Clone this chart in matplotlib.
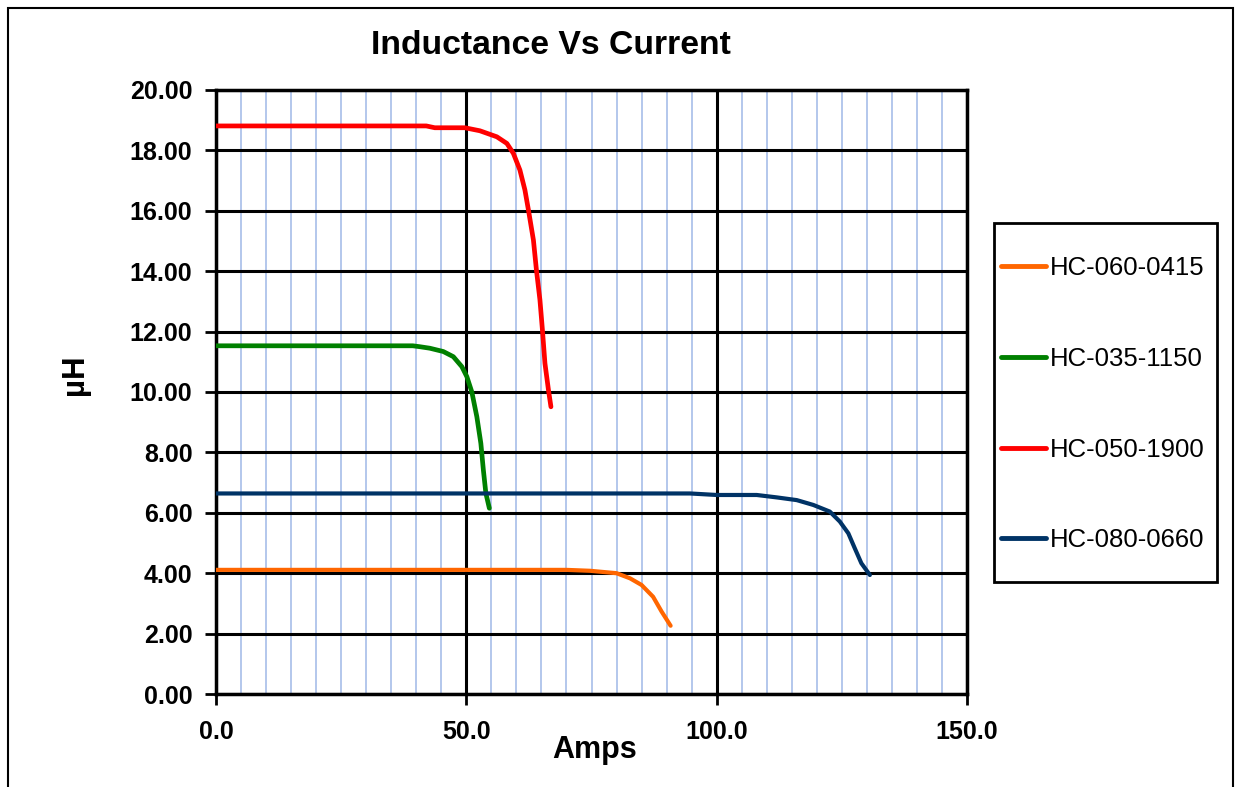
import numpy as np
import matplotlib
matplotlib.use('Agg')
import matplotlib.pyplot as plt
from matplotlib.patches import Rectangle
from matplotlib.ticker import MultipleLocator, FormatStrFormatter

plt.rcParams['font.family'] = ['Liberation Sans', 'DejaVu Sans']

# data (Amps, uH)
orange_x = [0, 20, 40, 60, 70, 74.7, 76.7, 80.0, 82.7, 85.0, 87.3, 89.0, 90.8]
orange_y = [4.11, 4.11, 4.11, 4.11, 4.11, 4.08, 4.05, 4.00, 3.83, 3.61, 3.22, 2.73, 2.26]

green_x = [0, 20, 39.3, 40.7, 42.7, 45.4, 47.4, 49.1, 50.1, 51.1, 52.1, 52.9, 53.4, 53.9, 54.6]
green_y = [11.53, 11.53, 11.53, 11.5, 11.45, 11.34, 11.17, 10.84, 10.51, 10.0, 9.18, 8.3, 7.42, 6.65, 6.15]

red_x = [0, 20, 42.0, 43.7, 49.7, 52.7, 56.1, 58.1, 59.4, 60.7, 61.7, 62.4, 63.4, 64.0, 64.7, 65.2, 65.7, 66.4, 66.9]
red_y = [18.81, 18.81, 18.81, 18.75, 18.75, 18.65, 18.45, 18.23, 17.9, 17.35, 16.69, 16.03, 15.03, 14.04,
         13.05, 12.05, 10.95, 10.07, 9.51]

navy_x = [0, 50, 94.7, 100, 108, 112, 116, 119.3, 122.6, 124.6, 126.3, 127.6, 128.9, 130.6]
navy_y = [6.64, 6.64, 6.64, 6.59, 6.59, 6.51, 6.42, 6.26, 6.04, 5.71, 5.32, 4.82, 4.33, 3.94]

series = [
    ("HC-060-0415", orange_x, orange_y, "#ff6600", 3.0),
    ("HC-035-1150", green_x, green_y, "#008000", 3.4),
    ("HC-050-1900", red_x, red_y, "#ff0000", 3.4),
    ("HC-080-0660", navy_x, navy_y, "#003366", 3.0),
]

W, H = 1236, 787
fig = plt.figure(figsize=(W / 100, H / 100), dpi=100)
ax = fig.add_axes([216 / W, 1 - 694 / H, (967 - 216) / W, (694 - 90) / H])

for name, xs, ys, col, lw in series:
    ax.plot(xs, ys, color=col, lw=lw, label=name, solid_capstyle='round',
            solid_joinstyle='round', zorder=5)

ax.set_xlim(0, 150)
ax.set_ylim(0, 20)
ax.xaxis.set_major_locator(MultipleLocator(50))
ax.xaxis.set_minor_locator(MultipleLocator(5))
ax.yaxis.set_major_locator(MultipleLocator(2))
ax.xaxis.set_major_formatter(FormatStrFormatter('%.1f'))
ax.yaxis.set_major_formatter(FormatStrFormatter('%.2f'))

ax.grid(which='minor', axis='x', color='#aec3ea', lw=1.3, zorder=1)
ax.grid(which='major', axis='both', color='black', lw=2.2, zorder=2)
ax.set_axisbelow(True)

ax.tick_params(axis='both', which='major', direction='out', length=8, width=2,
               labelsize=18)
ax.tick_params(axis='x', pad=11)
ax.tick_params(axis='y', pad=9)
ax.tick_params(which='minor', length=0)
for lab in ax.get_xticklabels() + ax.get_yticklabels():
    lab.set_fontweight('bold')

for side in ['left', 'bottom', 'right', 'top']:
    ax.spines[side].set_color('black')
    ax.spines[side].set_linewidth(2.5)

fig.text(551 / W, 1 - 45 / H, "Inductance Vs Current", ha='center', va='center',
         fontsize=24.3, fontweight='bold')
fig.text(595 / W, 1 - 750 / H, "Amps", ha='center', va='center',
         fontsize=22, fontweight='bold')
fig.text(75 / W, 1 - 375 / H, "µH", ha='center', va='center', rotation=90,
         fontsize=22.5, fontweight='bold')

# legend box drawn by hand, entries placed without frame
fig.patches.append(Rectangle((994 / W, 1 - 582 / H), (1217 - 994) / W, (582 - 223) / H,
                             transform=fig.transFigure, fill=False, ec='black', lw=2))
leg = ax.legend(loc='upper left', bbox_to_anchor=(1001 / W, 1 - 256 / H),
                bbox_transform=fig.transFigure, frameon=False, fontsize=18.5,
                handlelength=1.75, handletextpad=0.15, labelspacing=2.6,
                borderpad=0, borderaxespad=0)
for line in leg.get_lines():
    line.set_linewidth(3.5)

# outer chart frame
fig.patches.append(Rectangle((8 / W, -0.05), (1233 - 8) / W, 1 - 8 / H + 0.05,
                             transform=fig.transFigure, fill=False, ec='black', lw=1.5))

fig.savefig('out.png', dpi=100)
